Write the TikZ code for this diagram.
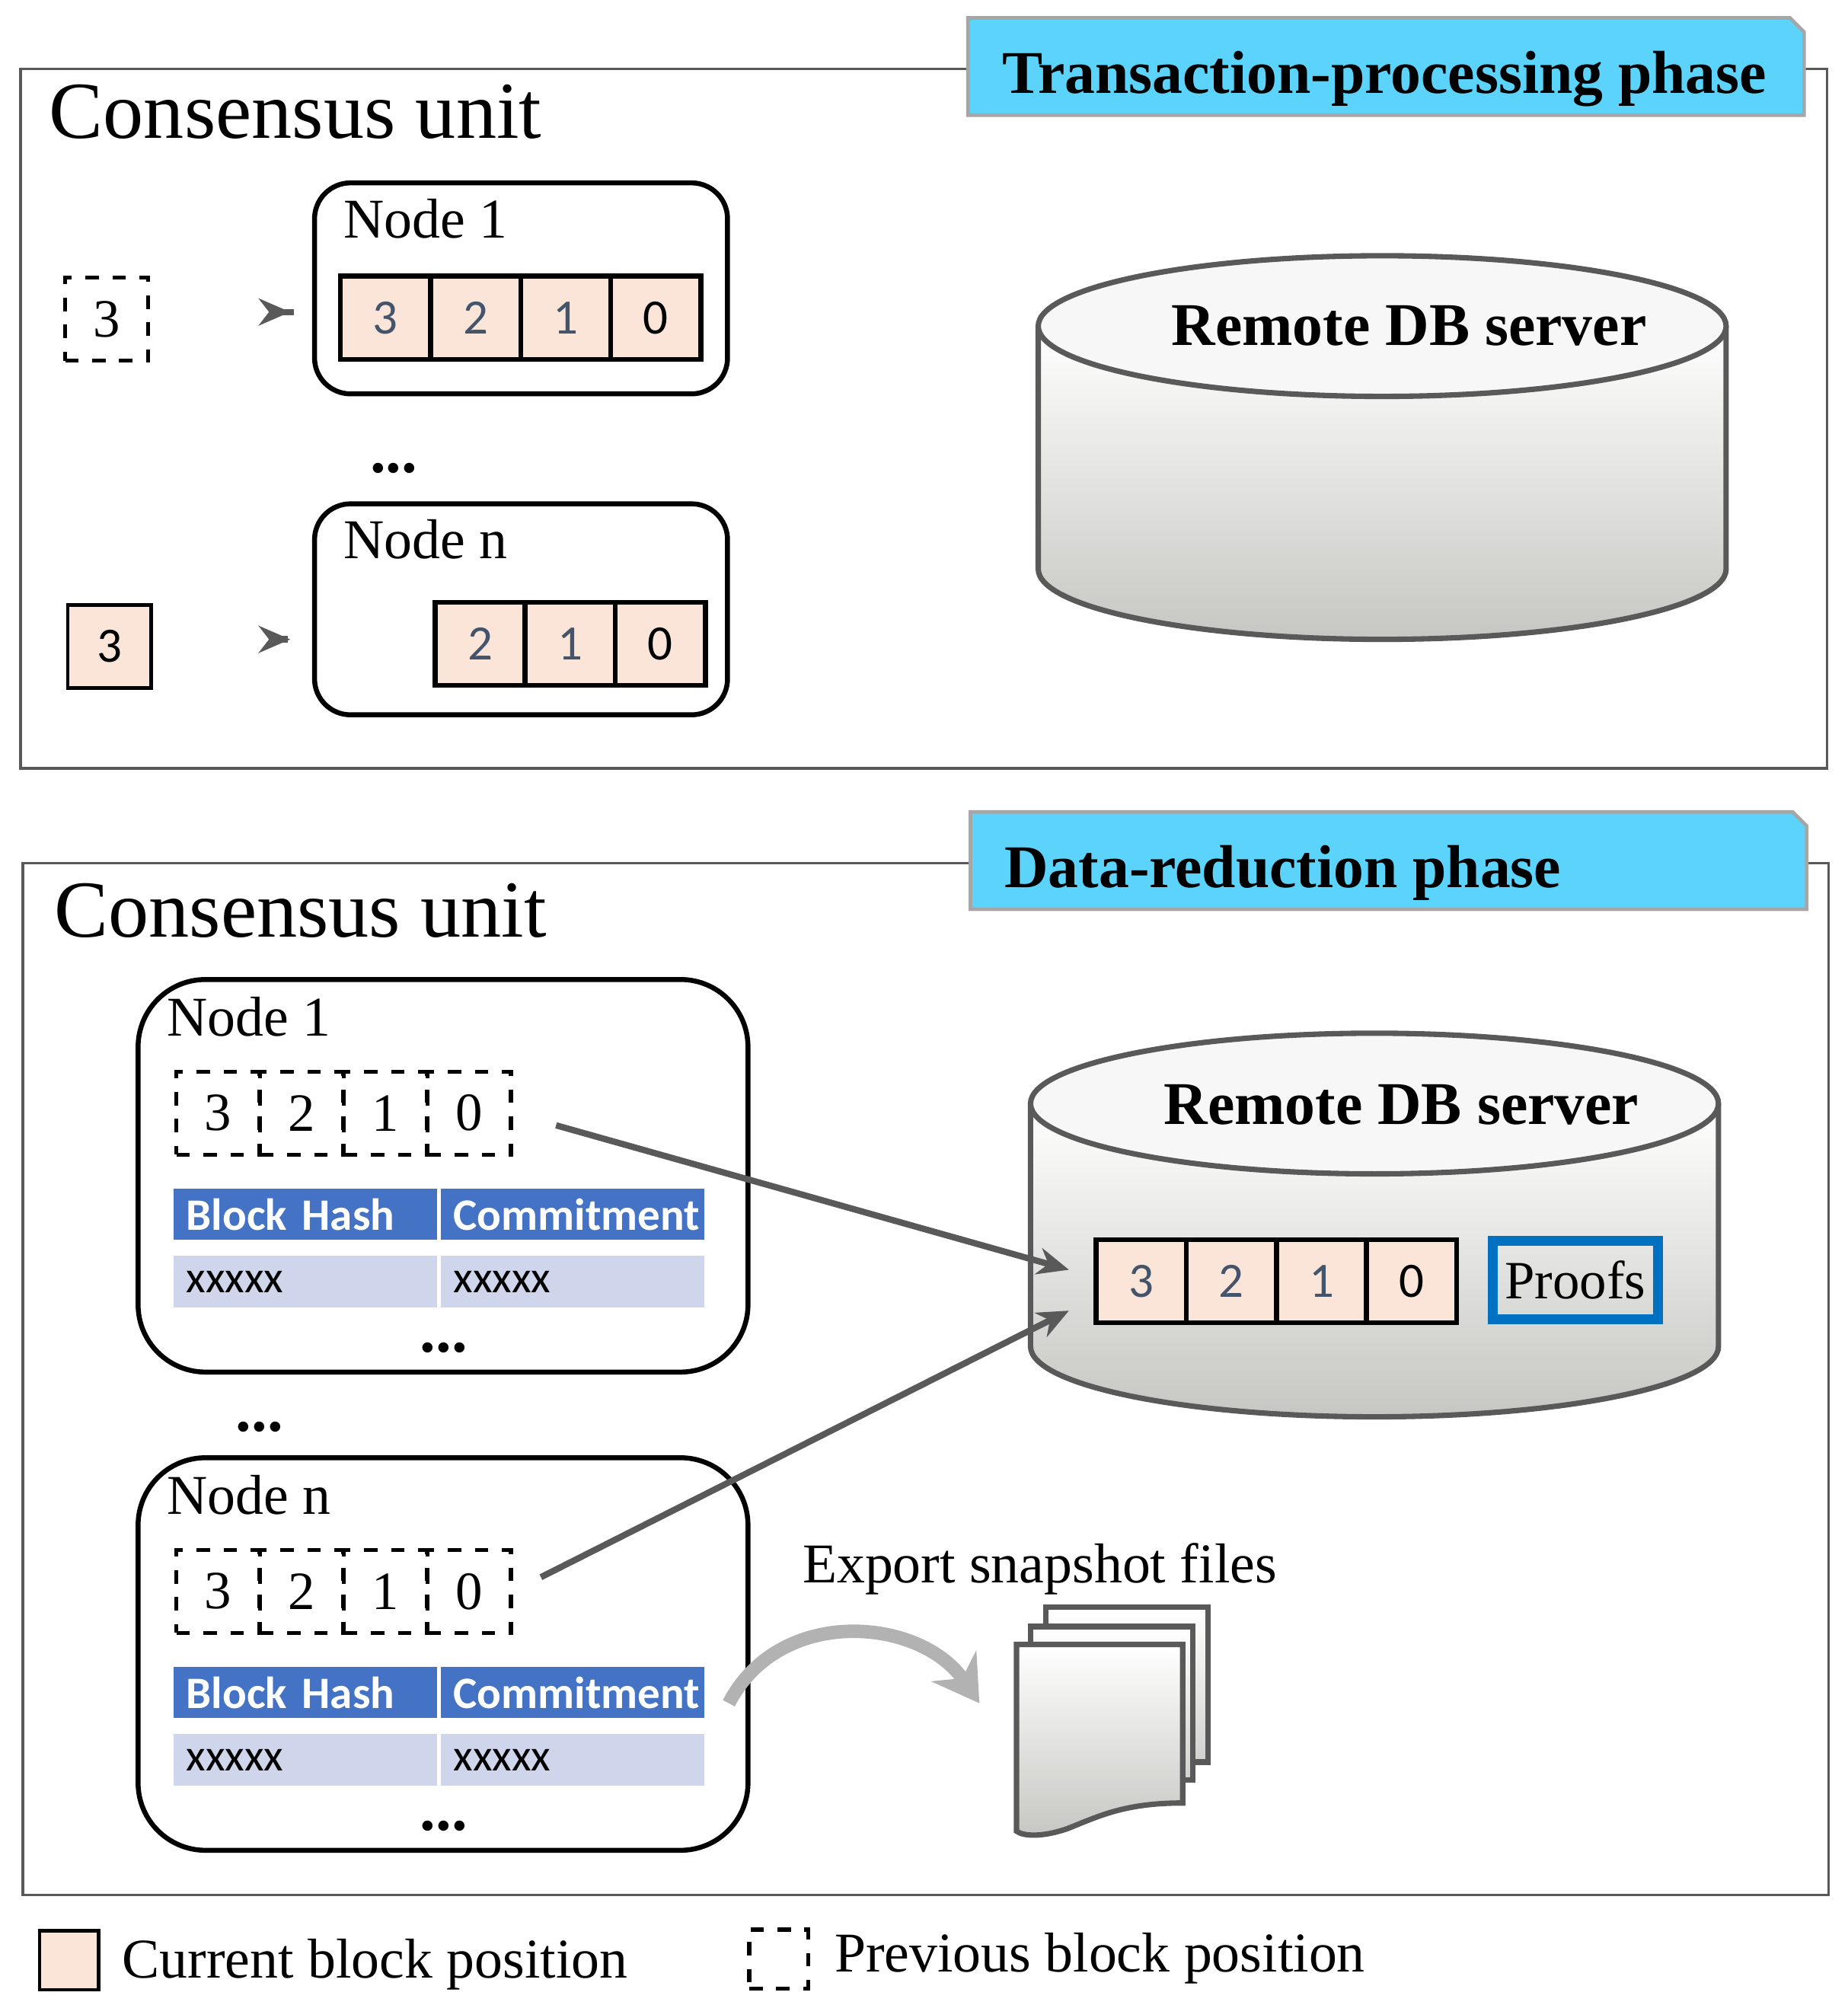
\documentclass[tikz,border=0pt]{standalone}
\usepackage{fontspec}
\setmainfont{Liberation Serif}
\newfontfamily\calfont{Carlito}
\usetikzlibrary{arrows.meta,positioning}

\definecolor{blockfill}{HTML}{FAE5D8}
\definecolor{slate}{HTML}{44546A}
\definecolor{tabcyan}{HTML}{5BD3FB}
\definecolor{hdrblue}{HTML}{4472C4}
\definecolor{rowblue}{HTML}{CFD5EA}
\definecolor{linegray}{HTML}{595959}
\definecolor{dbgray}{HTML}{C6C6C2}
\definecolor{proofblue}{HTML}{0070C0}

\tikzset{
  frame/.style={draw=linegray,line width=0.6pt},
  tab/.style={draw=gray!70,fill=tabcyan,line width=0.8pt},
  nodebox/.style={draw=black,line width=1.1pt,rounded corners=8pt},
  cell/.style={draw=black,line width=1.1pt,fill=blockfill,minimum width=7.05mm,minimum height=6.5mm,inner sep=0pt,font=\calfont\fontsize{11}{13}\selectfont},
  pcell/.style={draw=black,line width=0.9pt,dashed,minimum width=6.5mm,minimum height=6.5mm,inner sep=0pt,font=\fontsize{12}{14}\selectfont},
  hdr/.style={fill=hdrblue,text=white,minimum height=4mm,inner sep=0pt,anchor=north west,text width=20.6mm,minimum width=20.6mm,align=left,font=\calfont\bfseries\fontsize{10}{12}\selectfont},
  row/.style={fill=rowblue,minimum height=4.1mm,inner sep=0pt,anchor=north west,text width=20.6mm,minimum width=20.6mm,align=left,font=\calfont\fontsize{10}{12}\selectfont},
  link/.style={draw=linegray,line width=1.4pt,-{Stealth[length=7pt,width=6pt]}},
  unittitle/.style={anchor=base west,inner sep=0pt,font=\fontsize{18}{21}\selectfont},
  phasetitle/.style={anchor=base west,inner sep=0pt,font=\bfseries\fontsize{13.5}{16}\selectfont},
  nodetitle/.style={anchor=base west,inner sep=0pt,font=\fontsize{12.5}{15}\selectfont},
  dots/.style={inner sep=0pt,font=\bfseries\fontsize{14}{16}\selectfont}
}

\begin{document}
\begin{tikzpicture}[x=0.1mm,y=-0.1mm]
  \useasboundingbox (0,0) rectangle (1445,1568);

  % transaction-processing phase
  \draw[frame] (16,54) rectangle (1429,601);
  \draw[tab] (757,90) -- (757,14) -- (1400,14) -- (1411,25) -- (1411,90) -- cycle;
  \node[phasetitle] (tp) at (783,73) {Transaction-processing phase};
  \node[unittitle] (cu1) at (38,108) {Consensus unit};

  \draw[nodebox] (246,143) rectangle (569,308);
  \node[nodetitle] (n1t) at (268,186) {Node 1};
  \foreach \i/\v/\c in {0/3/slate,1/2/slate,2/1/slate,3/0/black}
    \node[cell,text=\c] (ta\i) at (301.5+\i*70.5,248.5) {\v};
  \node[pcell] (prev3) at (83.5,249.5) {3};
  \coordinate (a1e) at (227,244);
  \draw[link,shorten <=32pt] (prev3.east |- a1e) -- (a1e);

  \node[dots] (dt1) at (308,366) {...};

  \draw[nodebox] (246,394) rectangle (569,559);
  \node[nodetitle] (nnt) at (268,437) {Node n};
  \foreach \i/\v/\c in {0/2/slate,1/1/slate,2/0/black}
    \node[cell,text=\c] (tb\i) at (375.5+\i*70.5,503.5) {\v};
  \node[cell,line width=0.8pt,minimum width=6.5mm] (cur3) at (85.5,505.5) {3};
  \coordinate (a2e) at (227,500);
  \draw[link,shorten <=30pt] (cur3.east |- a2e) -- (a2e);

  % remote DB, top
  \fill[top color=white,bottom color=dbgray] (812,255) -- (812,445) arc[start angle=180,end angle=0,x radius=269,y radius=55] -- (1350,255) -- cycle;
  \draw[linegray,line width=1.2pt] (812,255) -- (812,445) arc[start angle=180,end angle=0,x radius=269,y radius=55] -- (1350,255);
  \draw[linegray,line width=1.2pt,fill=white!97!black] (1081,255) ellipse[x radius=269,y radius=55];
  \node[anchor=base,inner sep=0pt,font=\bfseries\fontsize{13.5}{16}\selectfont] (db1) at (1102,270) {Remote DB server};

  % data-reduction phase
  \draw[frame] (18,675) rectangle (1430,1482);
  \draw[tab] (759,711) -- (759,635) -- (1402,635) -- (1413,646) -- (1413,711) -- cycle;
  \node[phasetitle] (dr) at (785,694) {Data-reduction phase};
  \node[unittitle] (cu2) at (42,733) {Consensus unit};

  \foreach \k/\y/\lbl in {a/766/1,b/1140/n} {
    \draw[nodebox,rounded corners=15pt] (108,\y) rectangle (585,\y+307);
    \node[nodetitle] (nt\k) at (130,\y+44) {Node \lbl};
    \foreach \i/\v in {0/3,1/2,2/1,3/0}
      \node[pcell] (pc\k\i) at (170.5+\i*65.5,\y+104.5) {\v};
    \node[hdr] (hh\k) at (135,\y+163) {\hspace{1.0mm}Block Hash};
    \node[hdr] (hc\k) at (344,\y+163) {\hspace{1.0mm}Commitment};
    \node[row] (rh\k) at (135,\y+215) {\hspace{1.0mm}xxxxx};
    \node[row] (rc\k) at (344,\y+215) {\hspace{1.0mm}xxxxx};
    \node[dots] (dd\k) at (347,\y+288) {...};
  }
  \node[dots] (dt2) at (203,1116) {...};

  % remote DB, bottom
  \fill[top color=white,bottom color=dbgray] (806,863) -- (806,1053) arc[start angle=180,end angle=0,x radius=269,y radius=55] -- (1344,863) -- cycle;
  \draw[linegray,line width=1.2pt] (806,863) -- (806,1053) arc[start angle=180,end angle=0,x radius=269,y radius=55] -- (1344,863);
  \draw[linegray,line width=1.2pt,fill=white!97!black] (1075,863) ellipse[x radius=269,y radius=55];
  \node[anchor=base,inner sep=0pt,font=\bfseries\fontsize{13.5}{16}\selectfont] (db2) at (1096,879) {Remote DB server};
  \foreach \i/\v/\c in {0/3/slate,1/2/slate,2/1/slate,3/0/black}
    \node[cell,text=\c] (tc\i) at (892.5+\i*70.5,1002) {\v};
  \node[draw=proofblue,line width=2.2pt,minimum width=12.9mm,minimum height=6.1mm,inner sep=0pt,font=\fontsize{12}{14}\selectfont] (proofs) at (1232,1001) {Proofs};

  \coordinate (in1) at (836,993);
  \coordinate (in2) at (836,1025);
  \draw[link,shorten <=10pt] (pca3.east) -- (in1);
  \draw[link,shorten <=7pt] (pcb3.east) -- (in2);

  % snapshot files
  \node[anchor=base west,inner sep=0pt,font=\fontsize{12.5}{15}\selectfont] (exp) at (627,1238) {Export snapshot files};
  \draw[linegray,line width=1.2pt,top color=white,bottom color=dbgray!80] (818,1257) rectangle (945,1378);
  \draw[linegray,line width=1.2pt,top color=white,bottom color=dbgray!80] (806,1272) rectangle (933,1392);
  \draw[linegray,line width=1.2pt,top color=white,bottom color=dbgray] (795,1286) -- (925,1286) -- (925,1410)
    .. controls (880,1410) and (860,1420) .. (835,1430) .. controls (815,1437) and (800,1436) .. (795,1432) -- cycle;
  \coordinate (cs) at (570,1332);
  \coordinate (ce) at (766,1332);
  \draw[gray!60,line width=3pt,-{Stealth[length=10pt,width=12pt]}] (cs) .. controls (610,1255) and (720,1265) .. (ce);

  % legend
  \node[cell,line width=0.8pt,minimum width=4.6mm,minimum height=4.6mm] (lgc) at (54,1533) {};
  \node[anchor=base west,inner sep=0pt,font=\fontsize{12.5}{15}\selectfont] (lgct) at (95,1547) {Current block position};
  \node[pcell,minimum width=4.6mm,minimum height=4.6mm] (lgp) at (609,1532) {};
  \node[anchor=base west,inner sep=0pt,font=\fontsize{12.5}{15}\selectfont] (lgpt) at (652,1542) {Previous block position};
\end{tikzpicture}
\end{document}
